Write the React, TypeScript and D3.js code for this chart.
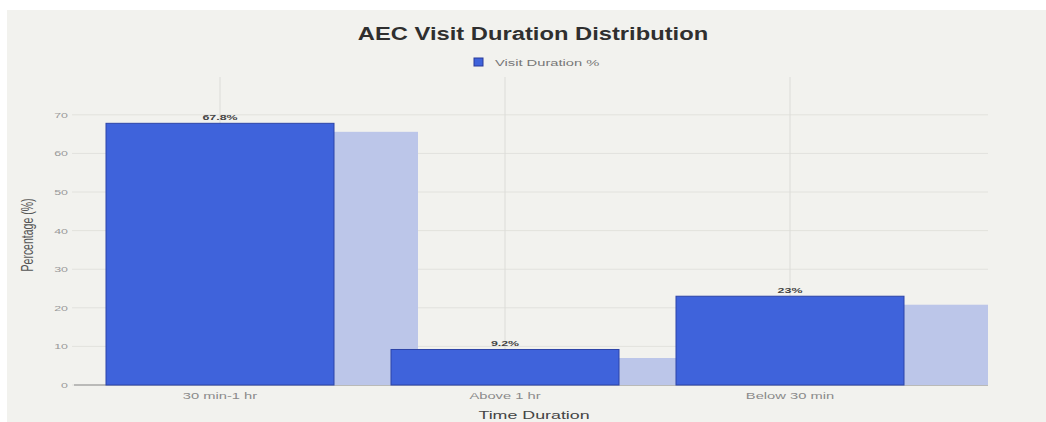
import React from "react";
import * as d3 from "d3";

const categories = ["30 min-1 hr", "Above 1 hr", "Below 30 min"];
const values = [67.8, 9.2, 23.0];
const valueLabels = ["67.8%", "9.2%", "23%"];
const yTicks = [0, 10, 20, 30, 40, 50, 60, 70];
const seriesName = "Visit Duration %";

const W = 1046;
const H = 422;

function SText(props: any) {
  const { x, y, sx = 1.55, children, ...rest } = props;
  return (
    <text transform={`translate(${x},${y}) scale(${sx},1)`} {...rest}>
      {children}
    </text>
  );
}

export default function App() {
  const x = d3.scaleBand<string>().domain(categories).range([77.5, 932.5]).paddingInner(0.2).paddingOuter(0.1);
  const y = d3.scaleLinear().domain([0, 79.8]).range([385, 77]);
  const plotLeft = 72;
  const plotRight = 988;
  const shadowDx = 84;
  const shadowDy = 8.5;
  const font = "Liberation Sans, Arial, sans-serif";

  return (
    <svg width={W} height={H} style={{ position: "absolute", left: 0, top: 0, display: "block" }} fontFamily={font}>
      <rect x={0} y={0} width={W} height={H} fill="#ffffff" />
      <rect x={7} y={10} width={W - 7} height={H - 10} fill="#f2f2ee" />
      <defs>
        <clipPath id="plotclip">
          <rect x={plotLeft} y={60} width={W - plotLeft} height={y(0) - 60} />
        </clipPath>
      </defs>
      {/* title */}
      <SText x={533} y={40} sx={1.32} textAnchor="middle" fontSize={18} fontWeight="bold" fill="#2f2f2f">
        AEC Visit Duration Distribution
      </SText>
      {/* legend */}
      <rect x={474} y={58} width={9} height={8} fill="#3f63db" stroke="#2a3a9a" strokeWidth={1} />
      <SText x={495} y={65.5} fontSize={9.5} fill="#777">{seriesName}</SText>
      {/* horizontal grid */}
      {yTicks.map((t) => (
        <line key={"g" + t} x1={plotLeft} x2={plotRight} y1={y(t)} y2={y(t)} stroke="#e2e2dd" strokeWidth={1} />
      ))}
      {/* vertical grid */}
      {categories.map((c) => {
        const cx = (x(c) as number) + x.bandwidth() / 2;
        return <line key={"v" + c} x1={cx} x2={cx} y1={77} y2={y(0)} stroke="#dcdcd8" strokeWidth={1} />;
      })}
      {/* baseline */}
      <line x1={plotLeft + 2} x2={plotRight} y1={y(0)} y2={y(0)} stroke="#8a8a8a" strokeWidth={1} />
      {/* shadows */}
      <g clipPath="url(#plotclip)">
        {categories.map((c, i) => (
          <rect
            key={"s" + c}
            x={(x(c) as number) + shadowDx}
            y={y(values[i]) + shadowDy}
            width={x.bandwidth()}
            height={y(0) - y(values[i])}
            fill="#bcc6e9"
          />
        ))}
      </g>
      {/* bars */}
      {categories.map((c, i) => (
        <rect
          key={"b" + c}
          x={x(c) as number}
          y={y(values[i])}
          width={x.bandwidth()}
          height={y(0) - y(values[i])}
          fill="#3f63db"
          stroke="#2d44a8"
          strokeWidth={1}
        />
      ))}
      {/* value labels */}
      {categories.map((c, i) => (
        <SText
          key={"l" + c}
          x={(x(c) as number) + x.bandwidth() / 2}
          y={y(values[i]) - 3}
          textAnchor="middle"
          fontSize={8}
          fontWeight="bold"
          fill="#444"
        >
          {valueLabels[i]}
        </SText>
      ))}
      {/* y tick labels */}
      {yTicks.map((t) => (
        <SText key={"t" + t} x={68} y={y(t) + 3} textAnchor="end" fontSize={8} fill="#999">
          {t}
        </SText>
      ))}
      {/* x tick labels */}
      {categories.map((c) => (
        <SText key={"x" + c} x={(x(c) as number) + x.bandwidth() / 2} y={399} textAnchor="middle" fontSize={9.5} fill="#8a8a8a">
          {c}
        </SText>
      ))}
      {/* axis titles */}
      <SText x={534} y={419} textAnchor="middle" fontSize={11.5} fill="#444">Time Duration</SText>
      <text transform={`translate(33,235) scale(1.55,1) rotate(-90)`} textAnchor="middle" fontSize={10.5} fill="#555">
        Percentage (%)
      </text>
    </svg>
  );
}
